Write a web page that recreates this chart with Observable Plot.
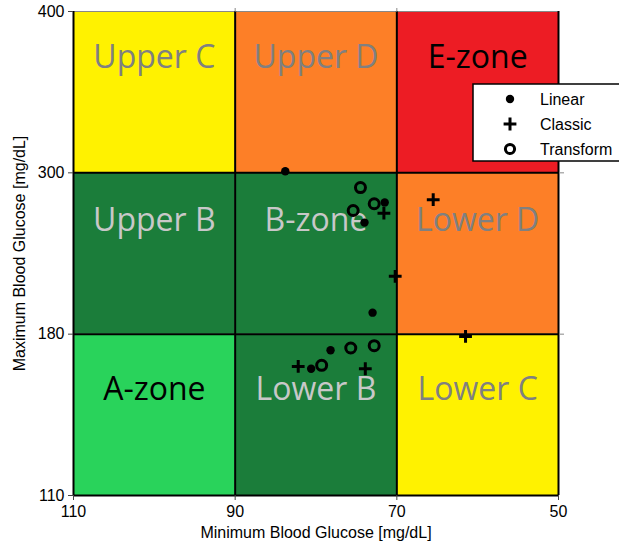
<!DOCTYPE html>
<html>
<head>
<meta charset="utf-8">
<script src="https://cdn.jsdelivr.net/npm/d3@7"></script>
<script src="https://cdn.jsdelivr.net/npm/@observablehq/plot@0.6"></script>
<style>
  html, body { margin: 0; padding: 0; background: #fff; overflow: hidden; }
  #chart { width: 619px; height: 542px; }
</style>
</head>
<body>
<div id="chart"></div>
<script>
// ---- Data ----
const xTicks = [110, 90, 70, 50];
const yTicks = [110, 180, 300, 400];

const zoneNames  = ["A-zone", "Lower B", "Lower C", "Upper B", "B-zone", "Lower D", "Upper C", "Upper D", "E-zone"];
const zoneCols   = [0, 1, 2, 0, 1, 2, 0, 1, 2];
const zoneRows   = [0, 0, 0, 1, 1, 1, 2, 2, 2];
const zoneFills  = ["#29D35B", "#1B7D3A", "#FFF200", "#1B7D3A", "#1B7D3A", "#FD7F27", "#FFF200", "#FD7F27", "#ED1C24"];
const zoneInk    = ["#000000", "#C8C8C8", "#808080", "#C8C8C8", "#C8C8C8", "#808080", "#808080", "#808080", "#000000"];

const seriesNames = ["Linear", "Classic", "Transform"];
const linearMin    = [83.8, 71.5, 74.0, 73.0, 78.2, 80.6];
const linearMax    = [301, 278, 263, 196, 173, 165];
const classicMin   = [65.5, 71.6, 70.2, 61.5, 82.2, 73.9];
const classicMax   = [280, 270, 223, 179, 166, 165];
const transformMin = [74.5, 72.8, 75.4, 75.7, 72.8, 79.3];
const transformMax = [289, 277, 272, 174, 175, 166.5];

// ---- Tables ----
const zones = zoneNames.map((name, i) => ({
  name,
  row: zoneRows[i],
  x1: xTicks[zoneCols[i]], x2: xTicks[zoneCols[i] + 1],
  y1: yTicks[zoneRows[i]], y2: yTicks[zoneRows[i] + 1],
  fill: zoneFills[i], ink: zoneInk[i]
}));
const toRows = (mins, maxs) => mins.map((m, i) => ({min: m, max: maxs[i]}));
const linear = toRows(linearMin, linearMax);
const classic = toRows(classicMin, classicMax);
const transform = toRows(transformMin, transformMax);

// ---- Layout ----
const W = 619, H = 542, mT = 11, mB = 47, mL = 73, mR = 61;
const bottom = H - mB, seg = (bottom - mT) / (yTicks.length - 1);

const zoneText = (row, dy) => Plot.text(zones.filter(z => z.row === row), {
  x: d => (d.x1 + d.x2) / 2,
  y: d => (d.y1 + d.y2) / 2,
  text: "name", fill: "ink", dy,
  fontFamily: "'Open Sans', sans-serif", fontSize: 32
});

const chart = Plot.plot({
  width: W, height: H,
  marginTop: mT, marginBottom: mB, marginLeft: mL, marginRight: mR,
  style: {fontFamily: "'Liberation Sans', Arial, Helvetica, sans-serif", fontSize: "16px", background: "#fff", overflow: "visible"},
  x: {type: "linear", domain: [110, 50], range: [mL, W - mR]},
  y: {type: "linear", domain: yTicks, range: yTicks.map((_, i) => bottom - i * seg)},
  color: {type: "identity"},
  marks: [
    Plot.rect(zones, {x1: "x1", x2: "x2", y1: "y1", y2: "y2", fill: "fill"}),
    zoneText(0, -25),
    zoneText(1, -33),
    zoneText(2, -34),
    Plot.ruleY([yTicks[3]], {y: d => d, x1: xTicks[0], x2: xTicks[3], stroke: "#888", strokeWidth: 1}),
    Plot.ruleX(xTicks, {x: d => d, y1: yTicks[0], y2: yTicks[3], stroke: "#000", strokeWidth: 2}),
    Plot.ruleY(yTicks.slice(0, 3), {y: d => d, x1: xTicks[0], x2: xTicks[3], stroke: "#000", strokeWidth: 2}),
    Plot.axisX({ticks: xTicks, tickSize: 5, tickPadding: 5, tickFormat: d => String(d), stroke: "#444",
      label: "Minimum Blood Glucose [mg/dL]", labelAnchor: "center", labelArrow: "none", labelOffset: 42}),
    Plot.axisX({anchor: "top", ticks: xTicks.slice(1, 3), tickSize: 4, tickFormat: () => "", stroke: "#888", label: null}),
    Plot.axisY({ticks: yTicks, tickSize: 5, tickPadding: 4, tickFormat: d => String(d), stroke: "#444",
      label: "Maximum Blood Glucose [mg/dL]", labelAnchor: "center", labelArrow: "none", labelOffset: 60}),
    Plot.axisY({anchor: "right", ticks: yTicks.slice(1, 3), tickSize: 5, tickFormat: () => "", stroke: "#888", label: null}),
    Plot.dot(linear, {x: "min", y: "max", r: 4.2, fill: "#000"}),
    Plot.dot(classic, {x: "min", y: "max", symbol: "plus", r: 4.2, stroke: "#000", strokeWidth: 3}),
    Plot.dot(transform, {x: "min", y: "max", r: 5, fill: "none", stroke: "#000", strokeWidth: 3})
  ]
});

document.getElementById("chart").appendChild(chart);

// ---- Legend (drawn inside the SVG) ----
const svg = d3.select(chart);
const lg = svg.append("g").attr("font-family", "'Liberation Sans', Arial, sans-serif")
  .attr("font-size", 16).attr("text-anchor", "start");
lg.append("rect").attr("x", 473).attr("y", 84).attr("width", 170).attr("height", 77)
  .attr("fill", "#fff").attr("stroke", "#000").attr("stroke-width", 1.5);
const legendSym = [
  {path: d3.symbol(d3.symbolCircle, Math.PI * 4.2 * 4.2)(), fill: "#000", stroke: "none"},
  {path: d3.symbol(d3.symbolPlus, Math.PI * 4.2 * 4.2)(), fill: "none", stroke: "#000"},
  {path: d3.symbol(d3.symbolCircle, Math.PI * 4.6 * 4.6)(), fill: "none", stroke: "#000"}
];
seriesNames.forEach((name, i) => {
  const cy = 99 + i * 25;
  lg.append("path").attr("d", legendSym[i].path).attr("transform", `translate(510,${cy})`)
    .attr("fill", legendSym[i].fill).attr("stroke", legendSym[i].stroke).attr("stroke-width", 3);
  lg.append("text").attr("x", 540).attr("y", cy).attr("dy", "0.35em").text(name);
});
</script>
</body>
</html>
